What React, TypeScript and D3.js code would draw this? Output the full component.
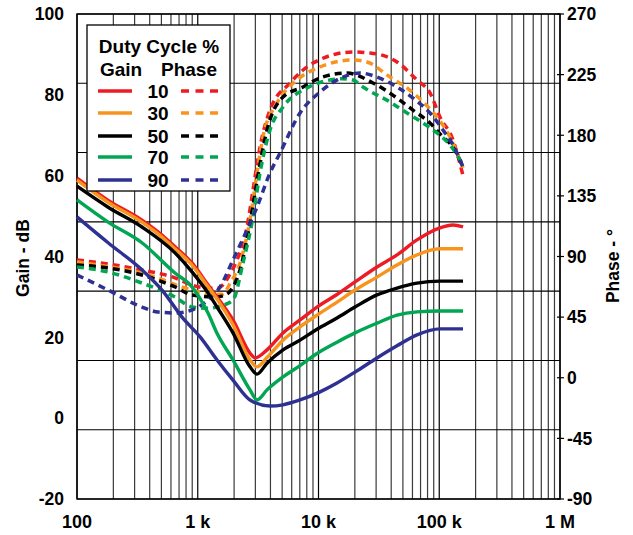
import React from "react";
import * as d3 from "d3";

const DUTY = ["10", "30", "50", "70", "90"];
const COLORS = ["#ed1c24", "#f7941d", "#000000", "#00a651", "#2e3192"];

const X_TICKS = [100, 1000, 10000, 100000, 1000000];
const X_LABELS = ["100", "1 k", "10 k", "100 k", "1 M"];
const GAIN_TICKS = [100, 80, 60, 40, 20, 0, -20];
const PHASE_TICKS = [270, 225, 180, 135, 90, 45, 0, -45, -90];

// Gain curves (frequency Hz, gain dB)
const gain10F = [100, 181, 345, 469, 648, 896, 1216, 1444, 1958, 2708, 2979, 3746, 5082, 7028, 9719, 14230, 20060, 30510, 44690, 65420, 101400, 130000, 157300];
const gain10V = [59.4, 53.9, 49.0, 46.1, 42.4, 38.4, 33.0, 30.0, 24.3, 16.1, 14.9, 16.9, 21.1, 24.3, 27.5, 30.6, 33.7, 37.4, 40.4, 44.1, 47.1, 47.8, 47.3];
const gain30F = [100, 181, 345, 469, 648, 896, 1216, 1444, 1958, 2708, 3095, 3746, 5082, 7028, 9719, 14230, 20060, 30510, 44690, 65420, 101400, 157300];
const gain30V = [58.9, 53.4, 48.5, 45.6, 41.9, 37.9, 32.5, 29.5, 23.1, 14.4, 12.7, 15.0, 19.3, 22.6, 25.5, 28.7, 31.7, 34.9, 37.9, 40.4, 41.9, 41.9];
const gain50F = [100, 181, 345, 648, 896, 1216, 1444, 1958, 2708, 3095, 3746, 5082, 7028, 9719, 14230, 20060, 30510, 44690, 65420, 101400, 157300];
const gain50V = [57.4, 52.2, 47.3, 40.9, 36.2, 31.0, 27.5, 21.1, 12.7, 10.9, 13.6, 16.9, 19.3, 22.0, 24.8, 27.5, 30.5, 32.2, 33.4, 33.9, 33.9];
const gain70F = [100, 181, 345, 648, 896, 1216, 1444, 1958, 2708, 3095, 3746, 5082, 7028, 9719, 14230, 20060, 30510, 44690, 65420, 101400, 157300];
const gain70V = [54.0, 48.5, 43.4, 35.9, 32.5, 26.0, 21.0, 14.4, 7.0, 4.5, 7.0, 10.2, 13.0, 16.0, 18.8, 21.1, 23.5, 25.5, 26.3, 26.5, 26.5];
const gain90F = [100, 181, 345, 506, 741, 1046, 1444, 1958, 2708, 3966, 5082, 7028, 10290, 14230, 20060, 30510, 44690, 65420, 101400, 157300];
const gain90V = [49.8, 43.4, 36.7, 31.7, 25.0, 20.1, 14.4, 9.4, 4.5, 3.0, 3.3, 4.5, 6.5, 8.7, 11.4, 14.9, 17.9, 20.6, 22.1, 22.1];

// Phase curves (frequency Hz, phase deg)
const phase10F = [100, 181, 345, 648, 896, 1216, 1450, 1620, 1850, 2114, 2558, 2868, 3277, 3966, 5808, 9006, 19310, 26700, 44690, 65420, 83820, 101400, 130000, 157300];
const phase10V = [87.4, 84.4, 80.0, 74.1, 68.8, 66.6, 66.5, 69, 77, 87.4, 111.9, 139.4, 171.3, 198.7, 218.8, 233.6, 241.8, 241.1, 234.4, 221.0, 211.4, 193.5, 176.5, 150.0];
const phase30F = [100, 181, 345, 896, 1300, 1600, 1850, 2238, 2708, 3095, 3470, 4533, 6637, 10290, 19310, 25220, 39090, 54070, 73350, 95810, 122700, 157300];
const phase30V = [85.9, 82.5, 77.8, 65.1, 62, 62, 70, 85.2, 117.1, 152.0, 178.7, 203.9, 221.0, 230.7, 235.9, 234.4, 223.2, 215.1, 204.7, 193.5, 178.7, 155.7];
const phase50F = [100, 181, 345, 648, 896, 1389, 1700, 1958, 2238, 2708, 3180, 3746, 5082, 7440, 10290, 17220, 28270, 44690, 60610, 83820, 107400, 130000, 157300];
const phase50V = [83.7, 81.5, 76.3, 67.4, 61.4, 59.9, 61.5, 67.4, 80.0, 114.9, 152.0, 183.9, 208.4, 215.8, 222.5, 226.2, 218.8, 207.6, 198.7, 189.1, 178.7, 171.3, 156.4];
const phase70F = [100, 181, 345, 648, 896, 1216, 1500, 1958, 2370, 2868, 3277, 3966, 5082, 8030, 12450, 15500, 19310, 23370, 39090, 54070, 73350, 95810, 122700, 157300];
const phase70V = [82.2, 78.5, 70.3, 59.9, 52.5, 51.5, 53, 57.7, 85.2, 119.3, 152.0, 183.9, 201.0, 215.1, 221.0, 222, 221.0, 215.8, 204.7, 196.5, 189.1, 181.7, 172.8, 157.9];
const phase90F = [100, 181, 345, 469, 648, 896, 1216, 1529, 1958, 2558, 3095, 3966, 4800, 7028, 10290, 15960, 22070, 30510, 44690, 60610, 83820, 107400, 130000, 157300];
const phase90V = [76.3, 65.1, 52.5, 48.8, 48.1, 50.3, 57.7, 67.4, 87.4, 109.7, 126.7, 152.0, 166.8, 196.5, 212.1, 223.2, 226.2, 223.2, 215.8, 207.6, 196.5, 183.9, 172.8, 156.4];

const GAIN_F = [gain10F, gain30F, gain50F, gain70F, gain90F];
const GAIN_V = [gain10V, gain30V, gain50V, gain70V, gain90V];
const PHASE_F = [phase10F, phase30F, phase50F, phase70F, phase90F];
const PHASE_V = [phase10V, phase30V, phase50V, phase70V, phase90V];

const W = 633;
const H = 535;
const L = 77;
const R = 560;
const T = 14;
const B = 499;
const FONT = "'Liberation Sans', Arial, Helvetica, sans-serif";

export default function App() {
  const x = d3.scaleLog().domain([100, 1e6]).range([L, R]);
  const yG = d3.scaleLinear().domain([-20, 100]).range([B, T]);
  const yP = d3.scaleLinear().domain([-90, 270]).range([B, T]);

  const minor: number[] = [];
  for (let dec = 100; dec < 1e6; dec *= 10) {
    for (let k = 2; k <= 9; k++) minor.push(dec * k);
  }
  const hGrid = d3.range(0, 8).map((i) => T + ((B - T) * i) / 7);

  const gainLine = (fs: number[], vs: number[]) =>
    d3
      .line<number>()
      .x((_, i) => x(fs[i]))
      .y((v) => yG(v))
      .curve(d3.curveMonotoneX)(vs) || "";
  const phaseLine = (fs: number[], vs: number[]) =>
    d3
      .line<number>()
      .x((_, i) => x(fs[i]))
      .y((v) => yP(v))
      .curve(d3.curveMonotoneX)(vs) || "";

  const rowY = [91, 113, 136, 157, 180];

  return (
    <svg
      width={W}
      height={H}
      style={{ position: "absolute", left: 0, top: 0, background: "#fff" }}
      fontFamily={FONT}
      fontWeight="bold"
    >
      <rect x={0} y={0} width={W} height={H} fill="#fff" />
      {/* grid */}
      {minor.map((f) => (
        <line key={"m" + f} x1={x(f)} x2={x(f)} y1={T} y2={B} stroke="#3a3a3a" strokeWidth={1.2} />
      ))}
      {X_TICKS.map((f) => (
        <line key={"d" + f} x1={x(f)} x2={x(f)} y1={T} y2={B} stroke="#000" strokeWidth={1.2} />
      ))}
      {hGrid.map((y, i) => (
        <line key={"h" + i} x1={L} x2={R} y1={y} y2={y} stroke="#000" strokeWidth={1.1} />
      ))}
      <rect x={L} y={T} width={R - L} height={B - T} fill="none" stroke="#000" strokeWidth={1.4} />
      {/* right ticks */}
      {PHASE_TICKS.map((p) => (
        <line key={"rt" + p} x1={R - 3} x2={R + 4} y1={yP(p)} y2={yP(p)} stroke="#000" strokeWidth={1.2} />
      ))}

      {/* curves */}
      {PHASE_F.map((fs, i) => (
        <path
          key={"p" + i}
          d={phaseLine(fs, PHASE_V[i])}
          fill="none"
          stroke={COLORS[i]}
          strokeWidth={3.5}
          strokeDasharray="7,5"
        />
      ))}
      {GAIN_F.map((fs, i) => (
        <path key={"g" + i} d={gainLine(fs, GAIN_V[i])} fill="none" stroke={COLORS[i]} strokeWidth={3.4} />
      ))}

      {/* left axis labels */}
      {GAIN_TICKS.map((g) => (
        <text key={"gl" + g} x={64} y={yG(g)} dy="0.36em" textAnchor="end" fontSize={17.5}>
          {g}
        </text>
      ))}
      {/* right axis labels */}
      {PHASE_TICKS.map((p) => (
        <text key={"pl" + p} x={567} y={yP(p)} dy="0.36em" textAnchor="start" fontSize={17.5}>
          {p}
        </text>
      ))}
      {/* bottom labels */}
      {X_TICKS.map((f, i) => (
        <text key={"xl" + f} x={x(f)} y={528} textAnchor="middle" fontSize={18}>
          {X_LABELS[i]}
        </text>
      ))}
      {/* axis titles */}
      <text transform={`translate(29,258) rotate(-90)`} textAnchor="middle" fontSize={17.5}>
        Gain - dB
      </text>
      <text transform={`translate(619,266) rotate(-90)`} textAnchor="middle" fontSize={17.5}>
        Phase - °
      </text>

      {/* legend */}
      <rect x={87} y={25} width={143} height={166} fill="#fff" stroke="#000" strokeWidth={1.3} />
      <text x={159} y={53} textAnchor="middle" fontSize={19}>
        Duty Cycle %
      </text>
      <text x={121} y={76} textAnchor="middle" fontSize={19}>
        Gain
      </text>
      <text x={189} y={76} textAnchor="middle" fontSize={19}>
        Phase
      </text>
      {DUTY.map((d, i) => (
        <g key={"lg" + d}>
          <line x1={98} x2={132} y1={rowY[i]} y2={rowY[i]} stroke={COLORS[i]} strokeWidth={3.4} />
          <text x={158} y={rowY[i]} dy="0.36em" textAnchor="middle" fontSize={19}>
            {d}
          </text>
          <line
            x1={181}
            x2={218}
            y1={rowY[i]}
            y2={rowY[i]}
            stroke={COLORS[i]}
            strokeWidth={3.4}
            strokeDasharray="8,6.5"
          />
        </g>
      ))}
    </svg>
  );
}
